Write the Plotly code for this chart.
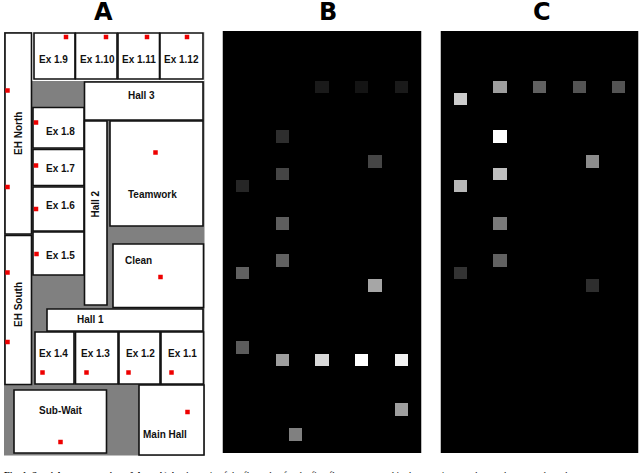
import plotly.graph_objects as go

W, H = 640, 473

# Floor plan (panel A)
room_names = ["EH North", "EH South", "Ex 1.9", "Ex 1.10", "Ex 1.11", "Ex 1.12", "Hall 3",
              "Ex 1.8", "Ex 1.7", "Ex 1.6", "Ex 1.5", "Hall 2", "Teamwork", "Clean", "Hall 1",
              "Ex 1.4", "Ex 1.3", "Ex 1.2", "Ex 1.1", "Main Hall", "Sub-Wait"]
room_x0 = [5, 5, 34, 75.5, 118, 160, 84.5, 33, 33, 33, 33, 84.5, 110, 113, 47, 35, 75.5, 119, 161, 139, 14]
room_x1 = [31.5, 31.5, 75, 117, 159.5, 203, 203, 84, 84, 84, 84, 107, 203, 203.5, 203, 74, 118, 160, 203.5, 204, 106.5]
room_y0 = [33, 235.5, 33, 33, 33, 33, 82, 107.5, 149.5, 187, 232, 121, 121, 244, 309, 332, 332, 332, 332, 385, 390]
room_y1 = [234, 384.5, 79, 79, 79, 79, 120, 148, 185.5, 231, 275, 305, 226, 307.5, 331, 384, 384, 384, 384, 455, 453]
label_x = [18, 18, 53, 97, 139, 181, 141, 60, 60, 60, 60, 94.5, 152.5, 138, 90, 53.5, 95.5, 140.5, 182, 165, 61]
label_y = [134, 305, 59, 59, 59, 59, 95, 131, 168, 205.5, 255, 204, 194, 260, 319, 353.5, 353.5, 353.5, 353.5, 434, 410]
label_angle = [-90, -90, 0, 0, 0, 0, 0, 0, 0, 0, 0, -90, 0, 0, 0, 0, 0, 0, 0, 0, 0]

sensor_x = [7.5, 7.5, 7.5, 7.5, 66, 106, 147, 187, 36, 36, 36, 36.5, 155.5, 160.5, 42.5, 86.5, 128.5, 171.5, 187.5, 60.5]
sensor_y = [90.5, 187, 272.5, 342, 37, 37, 37, 37, 122.5, 165.5, 209, 254, 152.5, 277, 372.5, 372.5, 372.5, 372.5, 412, 442]

# Activity grids (panels B and C)
n_rows, n_cols = 34, 15
b_rows = [4, 4, 4, 8, 10, 11, 12, 15, 18, 19, 20, 25, 26, 26, 26, 26, 30, 32]
b_cols = [7, 10, 13, 4, 11, 4, 1, 4, 4, 1, 11, 1, 4, 7, 10, 13, 13, 5]
b_vals = [0.10, 0.08, 0.10, 0.18, 0.27, 0.27, 0.15, 0.37, 0.38, 0.38, 0.65, 0.36, 0.62, 0.85, 1.0, 0.95, 0.62, 0.50]
c_rows = [4, 4, 4, 4, 5, 8, 10, 11, 12, 15, 18, 19, 20]
c_cols = [4, 7, 10, 13, 1, 4, 11, 4, 1, 4, 4, 1, 11]
c_vals = [0.62, 0.38, 0.33, 0.33, 0.80, 1.0, 0.55, 0.75, 0.72, 0.48, 0.38, 0.20, 0.18]

panel_letters = ["A", "B", "C"]
letter_x = [103, 328, 542]
caption = ("<b>Fig. 1. Spatial representation of data.</b> A) A schematic of the floor plan for the first "
           "floor rooms used in the experiment, where red squares show the sensors")


def grid(rows, cols, vals):
    z = [[0.0] * n_cols for _ in range(n_rows)]
    for r, c, v in zip(rows, cols, vals):
        z[r][c] = v
    return z


fig = go.Figure()
gray = [[0, "#000000"], [1, "#ffffff"]]
for z, xa, ya in [(grid(b_rows, b_cols, b_vals), "x2", "y2"), (grid(c_rows, c_cols, c_vals), "x3", "y3")]:
    fig.add_trace(go.Heatmap(z=z, xaxis=xa, yaxis=ya, zmin=0, zmax=1, colorscale=gray,
                             showscale=False, hoverinfo="skip"))

fig.add_trace(go.Scatter(x=sensor_x, y=sensor_y, mode="markers", xaxis="x", yaxis="y",
                         marker=dict(symbol="square", size=4.5, color="#ee0000", line=dict(width=0)),
                         hoverinfo="skip", showlegend=False))

shapes = [dict(type="rect", xref="x", yref="y", x0=4, x1=204.5, y0=32, y1=455.5,
               fillcolor="#808080", line=dict(width=0), layer="below"),
          dict(type="rect", xref="x", yref="y", x0=32, x1=204.5, y0=32, y1=81,
               fillcolor="#ffffff", line=dict(width=0), layer="below")]
annotations = []
for i, name in enumerate(room_names):
    shapes.append(dict(type="rect", xref="x", yref="y", x0=room_x0[i], x1=room_x1[i], y0=room_y0[i],
                       y1=room_y1[i], fillcolor="#ffffff", line=dict(color="#111111", width=1.6),
                       layer="below"))
    annotations.append(dict(x=label_x[i], y=label_y[i], xref="x", yref="y", text="<b>%s</b>" % name,
                            showarrow=False, textangle=label_angle[i],
                            font=dict(family="Liberation Sans", size=10, color="#111111")))
for letter, lx in zip(panel_letters, letter_x):
    annotations.append(dict(x=lx, y=11.5, xref="x", yref="y", text="<b>%s</b>" % letter, showarrow=False,
                            yanchor="middle", borderpad=0,
                            font=dict(family="DejaVu Sans", size=24, color="#000000")))
annotations.append(dict(x=2, y=468, xref="x", yref="y", text=caption, showarrow=False, xanchor="left",
                        yanchor="top", align="left",
                        font=dict(family="Liberation Serif", size=9.6, color="#111111")))

hidden = dict(visible=False, showgrid=False, zeroline=False)
fig.update_layout(
    width=W, height=H, autosize=False, margin=dict(l=0, r=0, t=0, b=0),
    paper_bgcolor="#ffffff", plot_bgcolor="rgba(0,0,0,0)", showlegend=False,
    shapes=shapes, annotations=annotations,
    xaxis=dict(domain=[0, 1], range=[0, W], **hidden),
    yaxis=dict(domain=[0, 1], range=[H, 0], **hidden),
    xaxis2=dict(domain=[222.5 / W, 421.5 / W], range=[-0.5, n_cols - 0.5], anchor="y2", **hidden),
    yaxis2=dict(domain=[1 - 453 / H, 1 - 31 / H], range=[n_rows - 0.5, -0.5], anchor="x2", **hidden),
    xaxis3=dict(domain=[440.5 / W, 638.5 / W], range=[-0.5, n_cols - 0.5], anchor="y3", **hidden),
    yaxis3=dict(domain=[1 - 453 / H, 1 - 31 / H], range=[n_rows - 0.5, -0.5], anchor="x3", **hidden),
)
fig.write_html("out.html", config=dict(displayModeBar=False),
               post_script="document.body.style.margin='0';document.documentElement.style.overflow='hidden';")
